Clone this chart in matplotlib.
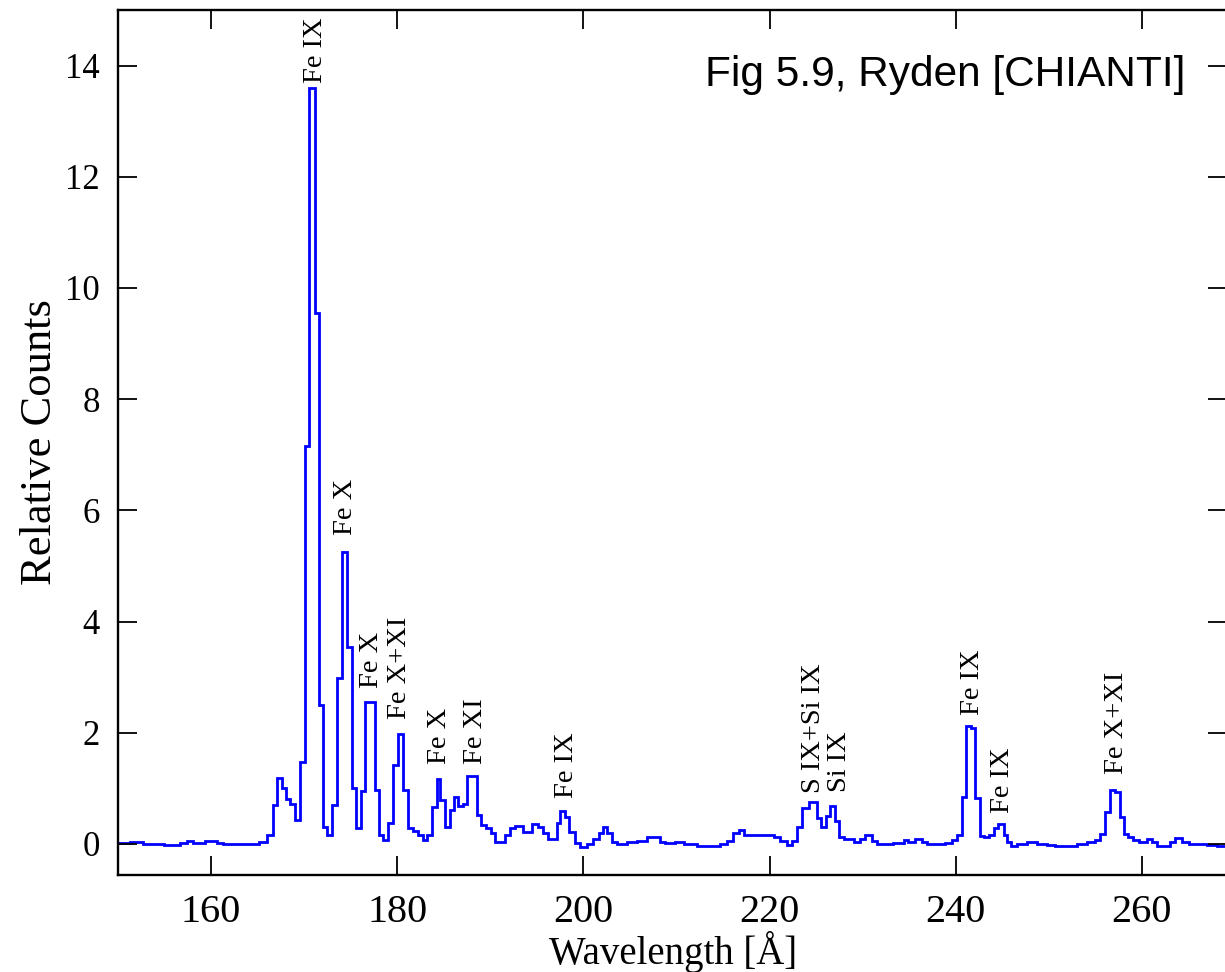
import matplotlib
matplotlib.use("Agg")
import matplotlib.pyplot as plt

# ---- data: step spectrum (bin edges in Angstrom, relative counts per bin) ----
edges = [150.0, 151.3, 152.7, 154.9, 156.7, 157.4, 158.1, 158.8, 159.4, 160.6,
         161.3, 165.1, 166.0, 166.7, 167.13, 167.6, 168.06, 168.49, 169.03, 169.56,
         170.08, 170.55, 171.2, 171.6, 172.07, 172.5, 173.04, 173.5, 174.04, 174.58,
         175.12, 175.58, 176.08, 176.55, 177.62, 178.09, 178.52, 179.05, 179.59, 180.13,
         180.67, 181.13, 181.74, 182.28, 182.75, 183.18, 183.71, 184.25, 184.61, 185.15,
         185.68, 186.11, 186.58, 187.05, 187.55, 188.55, 189.01, 189.55, 190.05, 190.52,
         191.59, 192.13, 192.67, 193.56, 194.46, 195.17, 195.71, 196.25, 197.14, 197.51,
         198.04, 198.51, 199.12, 199.66, 200.37, 201.09, 201.63, 202.09, 202.59, 203.06,
         203.6, 204.67, 205.75, 206.82, 208.25, 208.79, 209.87, 210.76, 212.2, 214.7,
         215.42, 216.13, 216.67, 217.21, 217.75, 220.44, 221.15, 221.87, 222.41, 222.95,
         223.48, 224.2, 225.1, 225.55, 226.05, 226.52, 227.05, 227.45, 228.0, 229.05,
         229.76, 230.3, 231.02, 231.56, 233.32, 234.4, 234.93, 235.65, 236.37, 236.91,
         238.9, 239.6, 240.13, 240.67, 241.13, 241.63, 242.1, 242.57, 243.07, 243.54,
         244.07, 244.5, 245.15, 245.5, 245.93, 246.58, 247.65, 248.73, 249.8, 250.7,
         253.03, 254.1, 255.0, 255.54, 256.07, 256.61, 257.15, 257.62, 258.05, 258.48,
         259.05, 259.66, 260.56, 261.1, 261.63, 263.07, 263.6, 264.32, 265.04, 265.93,
         267.01, 268.08, 270.0]

counts = [0.01, 0.03, 0.0, -0.02, 0.01, 0.05, 0.01, 0.02, 0.05, 0.02,
          0.0, 0.03, 0.16, 0.7, 1.19, 1.0, 0.8, 0.72, 0.43, 1.47,
          7.15, 13.6, 9.55, 2.5, 0.31, 0.16, 0.7, 2.98, 5.25, 3.55,
          1.0, 0.29, 0.95, 2.55, 0.97, 0.16, 0.07, 0.37, 1.42, 1.98,
          0.97, 0.29, 0.24, 0.16, 0.07, 0.16, 0.67, 1.17, 0.79, 0.31,
          0.61, 0.85, 0.68, 0.72, 1.22, 0.52, 0.34, 0.29, 0.2, 0.04,
          0.16, 0.29, 0.33, 0.22, 0.36, 0.31, 0.2, 0.09, 0.38, 0.6,
          0.49, 0.22, 0.02, -0.05, 0.0, 0.09, 0.2, 0.3, 0.2, 0.04,
          0.0, 0.03, 0.05, 0.13, 0.04, 0.02, 0.04, 0.0, -0.03, 0.0,
          0.05, 0.2, 0.25, 0.16, 0.16, 0.13, 0.05, -0.02, 0.06, 0.3,
          0.65, 0.76, 0.47, 0.31, 0.5, 0.68, 0.42, 0.12, 0.09, 0.03,
          0.09, 0.16, 0.06, 0.0, 0.01, 0.07, 0.03, 0.09, 0.03, 0.0,
          0.02, 0.07, 0.16, 0.84, 2.12, 2.08, 0.82, 0.14, 0.12, 0.16,
          0.29, 0.36, 0.16, 0.04, -0.04, 0.0, 0.03, 0.0, -0.02, -0.03,
          0.0, 0.03, 0.07, 0.18, 0.58, 0.97, 0.93, 0.49, 0.18, 0.12,
          0.07, 0.03, 0.08, 0.03, -0.04, 0.04, 0.1, 0.04, 0.0, 0.0,
          -0.02, -0.03]

# line identifications: text, wavelength, height of label base
line_names = ["Fe IX", "Fe X", "Fe X", "Fe X+XI", "Fe X", "Fe XI", "Fe IX",
              "S IX+Si IX", "Si IX", "Fe IX", "Fe IX", "Fe X+XI"]
line_wave = [171.2, 174.4, 177.25, 180.3, 184.5, 188.4, 198.2,
             224.75, 227.55, 241.85, 245.05, 257.25]
line_height = [13.68, 5.56, 2.81, 2.25, 1.44, 1.44, 0.82,
               0.91, 0.94, 2.32, 0.55, 1.26]

xticks = [160, 180, 200, 220, 240, 260]
yticks = [0, 2, 4, 6, 8, 10, 12, 14]

# ---- figure ----
fig = plt.figure(figsize=(12.25, 9.72), dpi=100)
ax = fig.add_axes([0.0963, 0.0998, 1.002 - 0.0963, 0.9897 - 0.0998])

ax.stairs(counts, edges, baseline=None, color="#0000ff", linewidth=2.0)

ax.set_xlim(150.0, 269.2)
ax.set_ylim(-0.56, 15.0)
ax.set_xticks(xticks)
ax.set_yticks(yticks)

serif = "Liberation Serif"
ax.tick_params(axis="both", which="major", direction="in", length=13.5, width=1.3,
               top=True, right=True, colors="black")
ax.tick_params(axis="x", pad=14)
ax.tick_params(axis="y", pad=13)
for lab in ax.get_xticklabels():
    lab.set_fontfamily(serif)
    lab.set_fontsize(29)
for lab in ax.get_yticklabels():
    lab.set_fontfamily(serif)
    lab.set_fontsize(25)

for sp in ax.spines.values():
    sp.set_linewidth(1.7)

ax.set_xlabel("Wavelength [Å]", fontfamily=serif, fontsize=28, labelpad=0)
ax.set_ylabel("Relative Counts", fontfamily=serif, fontsize=32, labelpad=4)

for name, w, h in zip(line_names, line_wave, line_height):
    ax.text(w, h, name, rotation=90, ha="center", va="bottom",
            fontfamily=serif, fontsize=20.5, color="black")

fig.text(0.9675, 1 - 86 / 972, "Fig 5.9, Ryden [CHIANTI]", ha="right",
         va="baseline", fontfamily="Liberation Sans", fontsize=30.5)

fig.savefig("out.png", dpi=100)
